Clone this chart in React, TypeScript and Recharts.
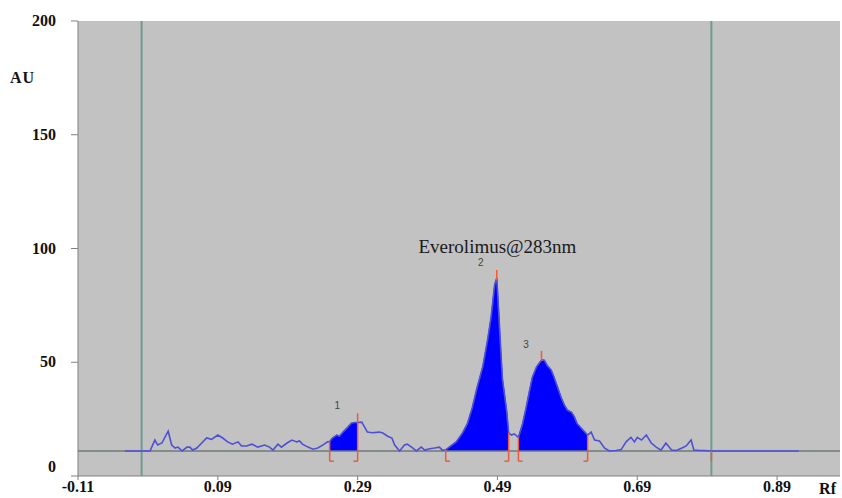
import React from "react";
import {
  Area,
  CartesianGrid,
  ComposedChart,
  Line,
  ReferenceDot,
  ReferenceLine,
  XAxis,
  YAxis,
} from "recharts";

// densitogram trace
const rfValues = [
  -0.043, -0.019, -0.007, 0.0, 0.004, 0.01, 0.019, 0.024, 0.029, 0.033, 0.039, 0.046, 0.05, 0.054,
  0.06, 0.067, 0.074, 0.081, 0.09, 0.097, 0.104, 0.111, 0.119, 0.124, 0.131, 0.139, 0.147, 0.157,
  0.164, 0.169, 0.176, 0.181, 0.189, 0.196, 0.203, 0.207, 0.211, 0.219, 0.226, 0.233, 0.24, 0.247,
  0.25, 0.254, 0.26, 0.264, 0.269, 0.276, 0.281, 0.286, 0.29, 0.296, 0.3, 0.304, 0.311, 0.321,
  0.326, 0.333, 0.339, 0.343, 0.35, 0.357, 0.361, 0.369, 0.374, 0.381, 0.386, 0.393, 0.4, 0.407,
  0.411, 0.416, 0.421, 0.431, 0.44, 0.447, 0.454, 0.461, 0.469, 0.476, 0.481, 0.486, 0.489, 0.49,
  0.493, 0.497, 0.503, 0.506, 0.51, 0.514, 0.52, 0.526, 0.531, 0.536, 0.54, 0.546, 0.553, 0.557,
  0.561, 0.567, 0.571, 0.576, 0.581, 0.586, 0.59, 0.596, 0.6, 0.604, 0.61, 0.619, 0.624, 0.629,
  0.636, 0.643, 0.65, 0.66, 0.667, 0.674, 0.681, 0.686, 0.69, 0.696, 0.703, 0.71, 0.717, 0.724,
  0.731, 0.739, 0.746, 0.754, 0.76, 0.767, 0.771, 0.779, 0.786, 0.796, 0.921,
];
const auValues = [
  11, 11, 11, 15.8, 13.6, 14.5, 19.7, 13.6, 12.3, 12.7, 11, 12.7, 12.7, 11.4,
  12.3, 14.5, 16.7, 16.1, 18, 16.7, 15, 14, 15, 13.2, 13.2, 14, 12.7, 13.6,
  12.7, 11.4, 14, 12.7, 14.5, 15.8, 15, 15.4, 14, 12.7, 11.8, 12.3, 13.6, 15,
  15.2, 16.7, 18, 17.5, 19.3, 21.5, 23.2, 23.5, 23.5, 23.7, 21.5, 19.3, 19, 19.3,
  18.9, 17.5, 16.7, 13.6, 11, 13.6, 14, 12.3, 11, 12.7, 11.4, 12, 12.3, 12.7,
  11.4, 11.5, 12.7, 15, 18.9, 23, 30, 39, 48, 60, 70, 84, 87, 82,
  65, 43, 29, 19, 18, 18.5, 17, 23, 30, 37.7, 43.4, 48, 51, 50.9,
  48.7, 46.5, 43.4, 39, 34.6, 31, 29, 28, 26, 23, 21, 18, 19.3, 15.8,
  15.4, 12.3, 11, 11.2, 11.6, 15, 17, 15, 17, 15.8, 18, 14.5, 12.7, 11.4,
  14.5, 11.4, 11.2, 12.3, 13.2, 15.8, 11.4, 11.2, 11.2, 11, 11,
];

const baseline = 11;
const peakStarts = [0.25, 0.416, 0.52];
const peakEnds = [0.29, 0.506, 0.619];
const peakStartTops = [15.2, 11.5, 17];
const peakEndTops = [23.5, 19, 18];
const peakMaxRf = [0.29, 0.489, 0.553];
const peakMaxLo = [23.5, 86, 50.5];
const peakMaxHi = [27.6, 90.5, 55];
const peakNames = ["1", "2", "3"];
const peakLabelRf = [0.261, 0.466, 0.531];
const peakLabelAu = [31, 94, 58];
const trackLines = [-0.019, 0.796];
const xTicks = [-0.11, 0.09, 0.29, 0.49, 0.69, 0.89];
const yTicks = [0, 50, 100, 150, 200];

const bracketBottom = 6.5;
const hook = 0.006;

const data = rfValues.map((rf, i) => {
  const inPeak = peakStarts.some((s, k) => rf >= s - 1e-9 && rf <= peakEnds[k] + 1e-9);
  return { rf, au: auValues[i], fill: inPeak ? auValues[i] : null };
});

const serif = "'Liberation Serif', 'Times New Roman', serif";
const red = "#EE5A3C";

function YTick({ x, y, payload }: any) {
  return (
    <text
      x={x}
      y={y}
      dy={payload.value === 0 ? -4 : 5}
      textAnchor="end"
      fontFamily={serif}
      fontWeight="bold"
      fontSize={16}
      fill="#111"
    >
      {payload.value}
    </text>
  );
}

export default function App() {
  return (
    <div style={{ position: "absolute", left: 0, top: 0, width: 842, height: 498, background: "#fff" }}>
      <ComposedChart
        width={842}
        height={498}
        data={data}
        margin={{ top: 21, right: 2, bottom: 0, left: 0 }}
      >
        <CartesianGrid fill="#C2C2C2" horizontal={false} vertical={false} />
        <XAxis
          dataKey="rf"
          type="number"
          domain={[-0.11, 0.98]}
          ticks={xTicks}
          tickFormatter={(v) => v.toFixed(2)}
          height={22}
          tickSize={4}
          tickMargin={1}
          stroke="#808080"
          tick={{ fill: "#111", fontFamily: serif, fontWeight: "bold", fontSize: 16 }}
          label={{
            value: "Rf",
            position: "insideRight",
            offset: 4,
            fill: "#111",
            fontFamily: serif,
            fontWeight: "bold",
            fontSize: 16,
            dy: 1,
          }}
        />
        <YAxis
          type="number"
          domain={[0, 200]}
          ticks={yTicks}
          width={78}
          tickSize={7}
          tickMargin={15}
          stroke="#808080"
          tick={<YTick />}
          label={{
            content: ({ viewBox }: any) => (
              <text
                x={viewBox.x + 10}
                y={viewBox.y + 62}
                fontFamily={serif}
                fontWeight="bold"
                fontSize={16}
                letterSpacing={1}
                fill="#111"
              >
                AU
              </text>
            ),
          }}
        />
        <ReferenceLine y={baseline} stroke="#6E7A77" strokeWidth={1.5} />
        {trackLines.map((rf) => (
          <ReferenceLine key={rf} x={rf} stroke="#6F9B92" strokeWidth={2} />
        ))}
        <Line
          dataKey="au"
          type="linear"
          stroke="#4F4FD6"
          strokeWidth={1.6}
          dot={false}
          isAnimationActive={false}
        />
        <Area
          dataKey="fill"
          type="linear"
          baseValue={baseline}
          stroke="#0000F0"
          strokeWidth={0.8}
          fill="#0000FF"
          fillOpacity={1}
          connectNulls={false}
          isAnimationActive={false}
        />
        {peakStarts.map((rf, i) => (
          <ReferenceLine
            key={`s${i}`}
            segment={[
              { x: rf, y: peakStartTops[i] },
              { x: rf, y: bracketBottom },
            ]}
            stroke={red}
            strokeWidth={1.5}
          />
        ))}
        {peakStarts.map((rf, i) => (
          <ReferenceLine
            key={`h${i}`}
            segment={[
              { x: rf, y: bracketBottom },
              { x: rf + hook, y: bracketBottom },
            ]}
            stroke={red}
            strokeWidth={1.5}
          />
        ))}
        {peakEnds.map((rf, i) => (
          <ReferenceLine
            key={`e${i}`}
            segment={[
              { x: rf, y: peakEndTops[i] },
              { x: rf, y: bracketBottom },
            ]}
            stroke={red}
            strokeWidth={1.5}
          />
        ))}
        {peakEnds.map((rf, i) => (
          <ReferenceLine
            key={`eh${i}`}
            segment={[
              { x: rf - hook, y: bracketBottom },
              { x: rf, y: bracketBottom },
            ]}
            stroke={red}
            strokeWidth={1.5}
          />
        ))}
        {peakMaxRf.map((rf, i) => (
          <ReferenceLine
            key={`m${i}`}
            segment={[
              { x: rf, y: peakMaxLo[i] },
              { x: rf, y: peakMaxHi[i] },
            ]}
            stroke={red}
            strokeWidth={1.5}
          />
        ))}
        <ReferenceLine
          segment={[
            { x: trackLines[1], y: baseline },
            { x: trackLines[1], y: bracketBottom },
          ]}
          stroke={red}
          strokeWidth={1.5}
        />
        {peakNames.map((name, i) => (
          <ReferenceDot
            key={`l${i}`}
            x={peakLabelRf[i]}
            y={peakLabelAu[i]}
            r={0}
            fill="none"
            stroke="none"
            label={{ value: name, position: "center", fill: "#444", fontSize: 10, fontFamily: "Arial, sans-serif" }}
          />
        ))}
        <ReferenceDot
          x={0.49}
          y={101}
          r={0}
          fill="none"
          stroke="none"
          label={{
            value: "Everolimus@283nm",
            position: "center",
            fill: "#1a1a1a",
            fontSize: 19,
            fontFamily: serif,
          }}
        />
      </ComposedChart>
    </div>
  );
}
